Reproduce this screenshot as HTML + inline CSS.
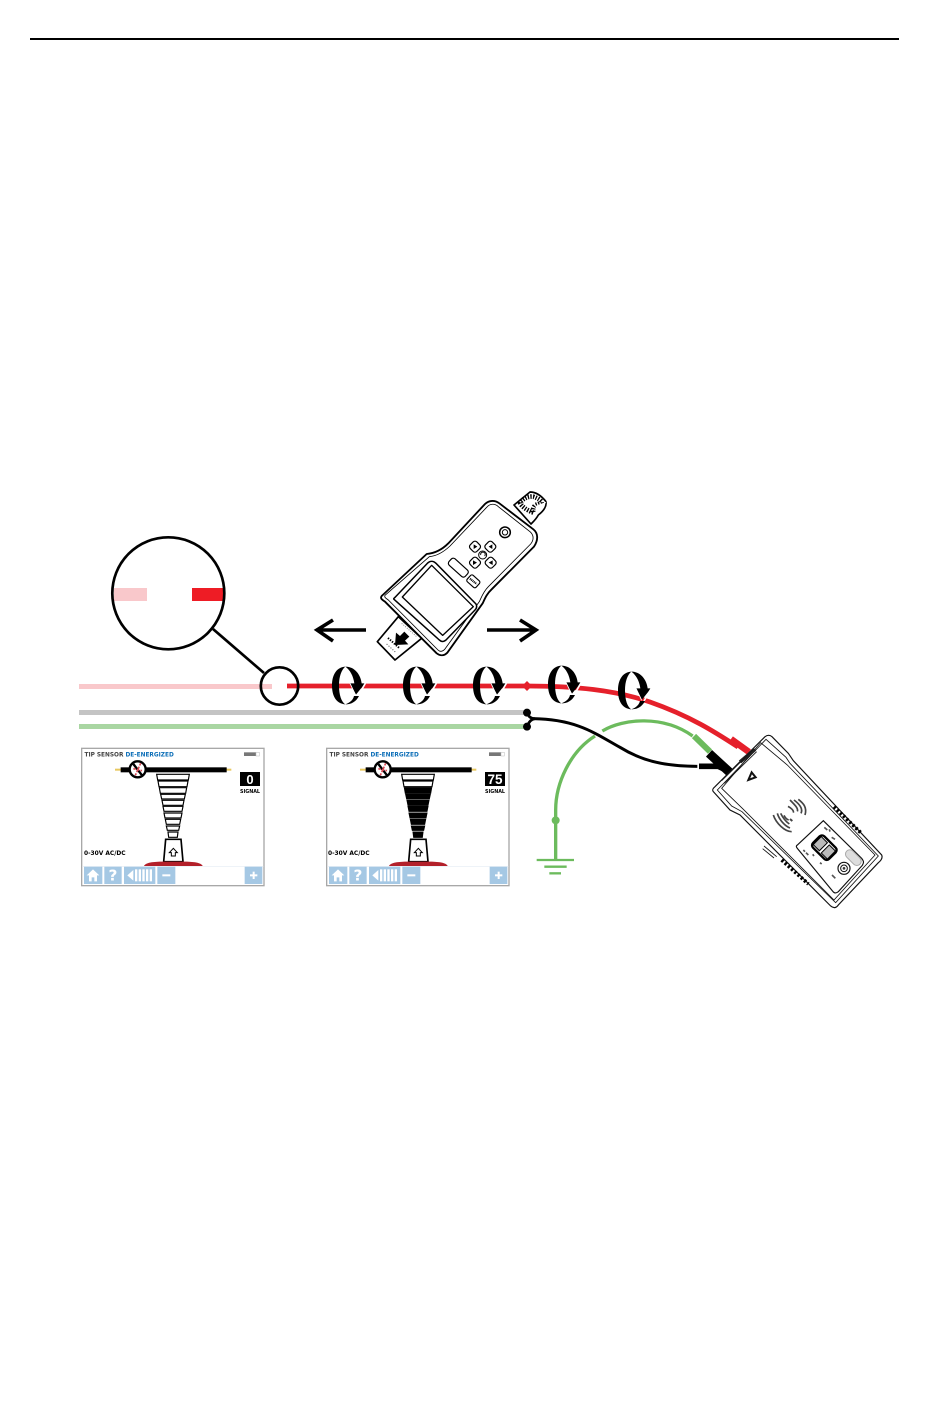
<!DOCTYPE html>
<html><head><meta charset="utf-8"><style>
html,body{margin:0;padding:0;background:#fff}
svg{display:block}
text{font-family:"DejaVu Sans","Liberation Sans",sans-serif;font-weight:bold}
</style></head><body>
<svg xmlns="http://www.w3.org/2000/svg" width="950" height="1414" viewBox="0 0 950 1414">
<defs>
<g id="rot">
<path d="M286,50 C256,52 246,80 246,106 C246,135 256,160 286,163 C274,155 267,135 267,106 C267,80 274,60 286,50Z" fill="#000"/>
<path d="M286,50 C315,50 332,75 335,100 L345,100 L318,134 L300,100 L313,100 C310,78 300,60 286,50Z" fill="#000"/>
<path d="M346,100 L324,138" stroke="#fff" stroke-width="5" fill="none"/>
<path d="M300,100 L317,136" stroke="#fff" stroke-width="2.5" fill="none"/>
<path d="M327,138 C318,155 305,163 286,163 C300,158 309,150 312,138Z" fill="#000"/>
</g>
<g id="rA">
<polygon points="260,103 358,103 355,120 263,120"/>
<polygon points="264,123 354,123 351,140 267,140"/>
</g>
<g id="rB">
<polygon points="268,143 350,143 347,160 271,160"/>
<polygon points="272,163 346,163 343,177 275,177"/>
<polygon points="276,181 342,181 339,196 279,196"/>
<polygon points="279,199 339,199 336,214 282,214"/>
<polygon points="282,219 336,219 333,234 285,234"/>
<polygon points="286,238 332,238 329,253 289,253"/>
<polygon points="289,258 329,258 326,271 292,271"/>
<polygon points="294,276 324,276 322,292 296,292"/>
</g>
<g id="scr">
<rect x="35" y="25" width="547" height="412" fill="#fff" stroke="#a8a8a8" stroke-width="4"/>
<rect x="522" y="37" width="36" height="11" fill="#777"/>
<rect x="558" y="37" width="10" height="11" fill="#fff" stroke="#bbb" stroke-width="1.5"/>
<rect x="135" y="86" width="20" height="6" fill="#e8c860"/>
<rect x="468" y="86" width="16" height="6" fill="#e8c860"/>
<rect x="152" y="82" width="318" height="15" fill="#000"/>
<circle cx="203" cy="88" r="24" fill="#fff" stroke="#000" stroke-width="7"/>
<path d="M190,72 L216,106" stroke="#000" stroke-width="7"/>
<path d="M212,70 L196,106 M190,86 L216,92" stroke="#d84a55" stroke-width="5" stroke-dasharray="7 4" fill="none"/>
<path d="M287,298 L333,298 L339,365 L281,365Z" fill="#fff" stroke="#000" stroke-width="5"/>
<path d="M310,325 L322,338 L316,338 L316,348 L304,348 L304,338 L298,338Z" fill="#fff" stroke="#000" stroke-width="3"/>
<path d="M222,378 C226,368 250,365 280,365 L340,365 C370,365 394,368 398,378Z" fill="#b3202a"/>
<rect x="36" y="379" width="545" height="1.5" fill="#dde8f2"/>
<g fill="#a5c8e4">
<rect x="42" y="380" width="55" height="52"/>
<rect x="103" y="380" width="52" height="52"/>
<rect x="162" y="380" width="94" height="52"/>
<rect x="262" y="380" width="54" height="52"/>
<rect x="524" y="380" width="53" height="52"/>
</g>
<path d="M69,388 L88,406 L81,406 L81,424 L73,424 L73,412 L65,412 L65,424 L57,424 L57,406 L50,406Z" fill="#fff"/>
<path d="M172,406 L190,390 L190,422Z" fill="#fff"/>
<g fill="#fff"><rect x="195" y="388" width="7" height="36"/><rect x="206" y="388" width="7" height="36"/><rect x="217" y="388" width="7" height="36"/><rect x="228" y="388" width="7" height="36"/><rect x="239" y="388" width="7" height="36"/>
<rect x="277" y="403" width="24" height="6"/><rect x="540" y="403" width="22" height="6"/><rect x="548" y="395" width="6" height="22"/></g>
<text x="129" y="421" font-size="46" fill="#fff" text-anchor="middle">?</text>
</g>
</defs>

<rect x="30" y="38" width="869" height="2" fill="#000"/>

<!-- Wires -->
<rect x="79" y="684" width="193" height="5" fill="#f9c8cb"/>
<rect x="79" y="710" width="448" height="5" fill="#c4c4c4"/>
<rect x="79" y="724" width="448" height="5" fill="#a9d6a2"/>
<path d="M287,686 L527,686 C575,686 615,690 650,702 C690,716 715,732 738,747" fill="none" stroke="#e5202b" stroke-width="4.7"/>
<path d="M731,739 L749,752" stroke="#e5202b" stroke-width="6.5"/>
<path d="M527,681 L532,686 L527,691 L522,686Z" fill="#e5202b"/>

<!-- ground wire & black lead, zoom 6 coordinates -->
<g transform="translate(510,650) scale(.33333)">
<path d="M137,630 L137,480 C137,400 180,305 255,258" fill="none" stroke="#6cbb5d" stroke-width="10"/>
<path d="M277,243 C340,205 460,195 548,258" fill="none" stroke="#6cbb5d" stroke-width="10"/>
<path d="M552,258 L600,305" stroke="#6cbb5d" stroke-width="18"/>
<path d="M597,310 L658,366" stroke="#000" stroke-width="27"/>
<circle cx="137" cy="511" r="12" fill="#6cbb5d"/>
<g stroke="#6cbb5d" stroke-width="7"><path d="M80,630 H192"/><path d="M103,650 H170"/><path d="M118,670 H153"/></g>
<path d="M52,188 C55,200 62,206 75,206 C62,208 55,218 52,230" fill="none" stroke="#000" stroke-width="8"/>
<circle cx="51" cy="188" r="12" fill="#000"/><circle cx="51" cy="230" r="12" fill="#000"/>
<path d="M70,206 C200,208 255,250 330,292 C400,335 470,349 562,349" fill="none" stroke="#000" stroke-width="9"/>
<path d="M567,349 L625,349 L660,366" fill="none" stroke="#000" stroke-width="17"/>
</g>

<!-- rotators -->
<use href="#rot" transform="translate(346,686) scale(.33333) translate(-288,-108)"/>
<use href="#rot" transform="translate(417,686) scale(.33333) translate(-288,-108)"/>
<use href="#rot" transform="translate(487,686) scale(.33333) translate(-288,-108)"/>
<use href="#rot" transform="translate(562,685) scale(.33333) translate(-288,-108)"/>
<use href="#rot" transform="translate(632,691) scale(.33333) translate(-288,-108)"/>

<!-- magnifier -->
<rect x="114" y="588" width="33" height="13" fill="#f9c8cb"/>
<rect x="192" y="588" width="32" height="13" fill="#ee1c25"/>
<circle cx="168.3" cy="593.3" r="56" fill="none" stroke="#000" stroke-width="2.7"/>
<path d="M213,629 L264,673" stroke="#000" stroke-width="2.7"/>
<circle cx="279.5" cy="686" r="18.7" fill="none" stroke="#000" stroke-width="2.7"/>

<!-- arrows -->
<g fill="none" stroke="#000" stroke-width="3.6">
<path d="M487,630 H535 M520,620 L536,630 L520,641"/>
<path d="M366,630 H318 M333,620 L317,630 L333,641"/>
</g>

<!-- handheld, zoom 1 coordinates -->
<g transform="translate(370,490) scale(.33333)" fill="none" stroke="#000" stroke-linejoin="round">
<path d="M432,45 L480,6 C500,6 515,18 528,35 C530,48 522,62 505,75 C498,88 490,95 483,102Z" fill="#fff" stroke-width="5"/>
<path d="M490,68 C470,60 455,50 450,38 C460,25 475,18 490,20 C505,25 515,32 515,38 L497,45 C490,50 488,58 490,68Z" fill="#fff" stroke-width="14" stroke-dasharray="4 4"/>
<path d="M496,48 L530,35 L520,48 L500,60Z" fill="#fff" stroke="none"/>
<path d="M35,318 L170,192 C195,190 215,180 235,160 L345,42 C358,30 375,30 388,40 L490,118 C505,130 505,150 492,170 L365,298 C350,312 345,325 338,340 L232,488 C222,498 210,498 200,490 L45,335 C35,328 30,325 35,318Z" fill="#fff" stroke-width="5.5"/>
<path d="M45,316 L178,200 C200,198 222,185 240,168 L350,52 C360,40 375,40 385,50 L480,125 C492,135 492,150 482,162 L355,290 C340,305 335,320 328,335 L224,478 C216,486 210,486 204,480 L55,330 C48,325 42,322 45,316Z" stroke-width="2.5"/>
<path d="M75,322 L172,220 C180,212 190,212 198,220 L318,342 C322,350 320,355 315,360 L228,450 C220,456 215,456 208,450 L72,328 C70,326 72,325 75,322Z" fill="#fff" stroke-width="4.5"/>
<path d="M97,321 L185,226 L310,350 L218,436Z" fill="#fff" stroke-width="4"/>
<path d="M22,455 L85,380 L155,445 L75,510Z" fill="#fff" stroke-width="5"/>
<path d="M75,465 L78,428 L90,438 L103,425 L118,440 L105,452 L115,463Z" fill="#000" stroke="none"/>
<path d="M54,444 L90,476" stroke-width="6" stroke-dasharray="4 4"/>
<path d="M50,462 L78,488" stroke="#444" stroke-width="3" stroke-dasharray="3 5"/>
<path d="M95,400 L140,440" stroke="#888" stroke-width="3" stroke-dasharray="3 4"/>
<circle cx="405" cy="127" r="16" stroke-width="4.5"/><circle cx="405" cy="127" r="8" stroke-width="3"/>
<rect x="-14" y="-14" width="28" height="28" rx="8" transform="translate(315,170) rotate(45)" stroke-width="3.5"/>
<rect x="-14" y="-14" width="28" height="28" rx="8" transform="translate(361,170) rotate(45)" stroke-width="3.5"/>
<rect x="-14" y="-14" width="28" height="28" rx="8" transform="translate(315,218) rotate(45)" stroke-width="3.5"/>
<rect x="-14" y="-14" width="28" height="28" rx="8" transform="translate(362,218) rotate(45)" stroke-width="3.5"/>
<path d="M311,163 L322,170 L311,177Z M367,163 L356,170 L367,177Z M309,211 L321,218 L309,225Z M368,211 L356,218 L368,225Z" fill="#000" stroke="none"/>
<circle cx="338" cy="195" r="12" stroke-width="3"/><path d="M332,195 A7,7 0 1 1 344,198" stroke-width="3"/>
<rect x="-33" y="-13" width="66" height="26" rx="8" transform="translate(265,233) rotate(42)" stroke-width="3.5"/>
<rect x="-18" y="-13" width="36" height="26" rx="6" transform="translate(310,274) rotate(42)" stroke-width="3.5"/>
<path d="M300,266 L320,282" stroke-width="6" stroke-dasharray="3 2"/>
</g>

<!-- screen 1 -->
<g transform="translate(70,740) scale(.33333)">
<use href="#scr"/>
<use href="#rA" fill="#fff" stroke="#000" stroke-width="3.5"/>
<use href="#rB" fill="#fff" stroke="#000" stroke-width="3.5"/>
</g>
<text x="84.5" y="756.5" font-size="5.8" fill="#444">TIP SENSOR <tspan fill="#0d6fb8">DE-ENERGIZED</tspan></text>
<rect x="240" y="772" width="20" height="14" fill="#000"/>
<text x="250" y="784" font-size="13" fill="#fff" text-anchor="middle" style="font-family:'Liberation Sans',sans-serif">0</text>
<text x="250" y="793" font-size="4.8" fill="#000" text-anchor="middle">SIGNAL</text>
<text x="84" y="855" font-size="5.9" fill="#000">0-30V AC/DC</text>

<!-- screen 2 -->
<g transform="translate(315,740) scale(.33333)">
<use href="#scr"/>
<use href="#rA" fill="#fff" stroke="#000" stroke-width="3.5"/>
<use href="#rB" fill="#000" stroke="#000" stroke-width="3"/>
</g>
<text x="329.5" y="756.5" font-size="5.8" fill="#444">TIP SENSOR <tspan fill="#0d6fb8">DE-ENERGIZED</tspan></text>
<rect x="485" y="772" width="20" height="14" fill="#000"/>
<text x="495" y="784" font-size="13.5" fill="#fff" text-anchor="middle" style="font-family:'Liberation Sans',sans-serif">75</text>
<text x="495" y="793" font-size="4.8" fill="#000" text-anchor="middle">SIGNAL</text>
<text x="328" y="855" font-size="5.9" fill="#000">0-30V AC/DC</text>

<!-- generator box, zoom 4 coordinates -->
<g transform="translate(690,720) scale(.33333)" fill="none" stroke="#111">
<path d="M225,50 C232,45 240,45 246,50 L295,100 L310,122 L575,405 C578,412 575,420 565,428 L445,555 C438,565 430,565 422,558 L150,285 L120,270 L70,215 C66,210 68,206 75,200Z" fill="#fff" stroke-width="3.5"/>
<path d="M228,58 L288,112 L300,130 L565,408 L437,548 L156,275 L125,258 L82,210Z" stroke-width="2.5"/>
<path d="M212,68 L292,135 L555,405 L432,540 L160,268 L95,205Z" stroke-width="2.5"/>
<path d="M150,126 L195,88" stroke="#222" stroke-width="11"/>
<path d="M95,182 L190,88 M103,190 L200,95" stroke-width="2.5"/>
<path d="M185,157 L197,172 L175,180Z" stroke-width="6"/>
<path d="M325,238 C340,250 352,262 345,285 M312,240 C328,252 340,266 333,280 M300,240 C314,254 326,266 322,274 M294,259 C304,264 312,272 310,278" stroke="#444" stroke-width="5"/>
<path d="M250,285 C258,310 285,335 305,335 M262,280 C268,300 285,318 300,324 M272,280 C278,292 288,305 298,312 M282,286 C285,292 290,298 296,300" stroke="#444" stroke-width="5"/>
<path d="M300,297 L307,303" stroke="#444" stroke-width="6"/>
<path d="M400,302 L515,415 C522,424 522,428 517,436 L445,515 C438,520 435,520 430,516 L322,385 C318,380 318,378 322,375Z" fill="#fff" stroke-width="3.5"/>
<rect x="-24" y="-34" width="48" height="68" rx="10" transform="translate(403,383) rotate(-45)" fill="#fff" stroke="#000" stroke-width="7"/>
<rect x="-17" y="-13" width="34" height="26" transform="translate(391,371) rotate(-45)" fill="#bbb" stroke="#000" stroke-width="3"/>
<rect x="-17" y="-13" width="34" height="26" transform="translate(415,396) rotate(-45)" fill="#bbb" stroke="#000" stroke-width="3"/>
<rect x="-28" y="-13" width="56" height="26" rx="13" transform="translate(490,413) rotate(45)" fill="#ddd" stroke="#aaa" stroke-width="3"/>
<circle cx="462" cy="445" r="18" stroke-width="3.5"/><circle cx="462" cy="445" r="10" stroke-width="3"/><circle cx="462" cy="445" r="4" fill="#333" stroke="none"/>
<path d="M403,322 L412,330 M418,328 L420,335 M425,352 L435,358 M340,390 L345,395 M348,398 L355,405 M368,403 L372,408 M390,428 L395,432 M426,465 L436,475" stroke="#555" stroke-width="5"/>
<path d="M432,260 L512,338" stroke="#000" stroke-width="11" stroke-dasharray="7 6"/>
<path d="M275,420 L355,492" stroke="#000" stroke-width="11" stroke-dasharray="7 6"/>
<path d="M222,378 L260,410 M218,386 L252,414" stroke-width="2.5"/>
</g>
</svg>
</body></html>
